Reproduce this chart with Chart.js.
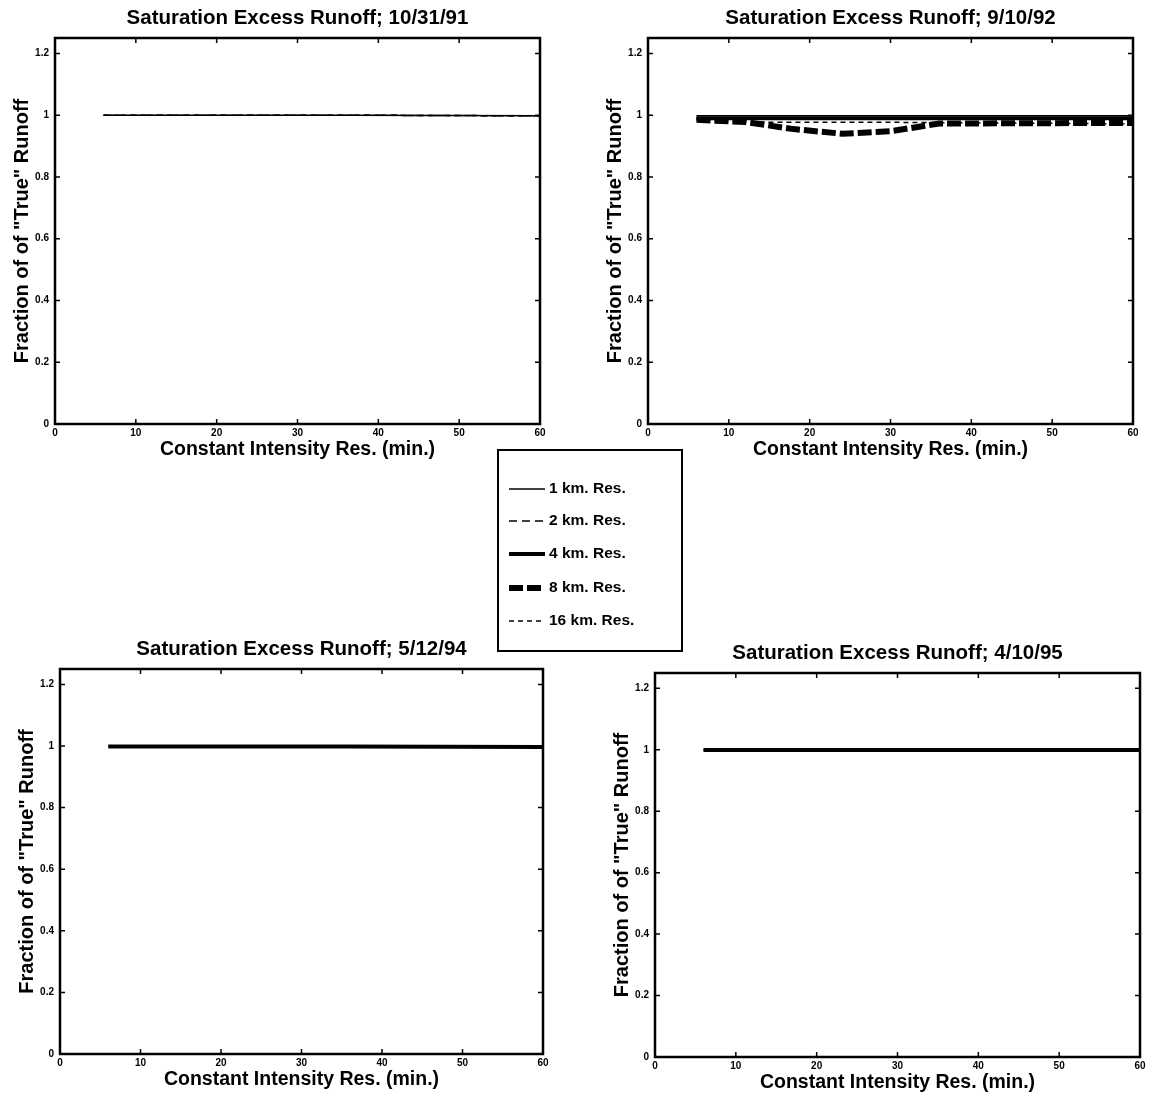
<!DOCTYPE html>
<html>
<head>
<meta charset="utf-8">
<script src="https://cdn.jsdelivr.net/npm/chart.js@4.4.0/dist/chart.umd.min.js"></script>
<style>
  body { margin: 0; background: #fff; width: 1150px; height: 1097px; position: relative; overflow: hidden; }
  .panel { position: absolute; }
  #legend { position: absolute; left: 497px; top: 449px; width: 182px; height: 199px; border: 2px solid #000;
    font-family: "Liberation Sans", Arial, sans-serif; font-weight: bold; font-size: 15.5px; color: #000; }
  .row { position: absolute; left: 10px; height: 16px; line-height: 16px; white-space: nowrap; }
  .row canvas { vertical-align: middle; margin-right: 4px; }
</style>
</head>
<body>
<div id="legend"></div>
<script>
// resolutions on the x axis (min.)
const xRes = [6, 12, 18, 24, 30, 36, 60];
const xTicks = [0, 10, 20, 30, 40, 50, 60];
const yTicks = [0, 0.2, 0.4, 0.6, 0.8, 1, 1.2];

const seriesNames = ['1 km. Res.', '2 km. Res.', '4 km. Res.', '8 km. Res.', '16 km. Res.'];
const seriesWidths = [1.5, 1.5, 4, 6, 1.5];
const seriesDashes = [[], [8, 5], [], [14, 4], [5, 4]];

const titles = [
    'Saturation Excess Runoff; 10/31/91',
    'Saturation Excess Runoff; 9/10/92',
    'Saturation Excess Runoff; 5/12/94',
    'Saturation Excess Runoff; 4/10/95'
];

// 10/31/91
const p1km_91 = [1, 1, 1, 1, 1, 1, 0.998];
const p2km_91 = [1, 1, 1, 1, 1, 1, 0.998];
const p16km_91 = [1, 1, 1, 1, 1, 1, 0.998];

// 9/10/92
const p1km_92 = [0.998, 0.998, 0.998, 0.998, 0.998, 0.998, 0.998];
const p2km_92 = [0.99, 0.988, 0.988, 0.988, 0.988, 0.99, 0.99];
const p4km_92 = [0.99, 0.99, 0.99, 0.99, 0.99, 0.99, 0.99];
const p8km_92 = [0.985, 0.978, 0.955, 0.94, 0.948, 0.973, 0.975];
const p16km_92 = [0.985, 0.978, 0.977, 0.977, 0.977, 0.976, 0.972];

// 5/12/94
const p1km_94 = [1, 1, 1, 1, 1, 1, 0.998];
const p4km_94 = [0.998, 0.998, 0.998, 0.998, 0.998, 0.998, 0.997];

// 4/10/95
const p1km_95 = [1, 1, 1, 1, 1, 1, 1];
const p4km_95 = [0.999, 0.999, 0.999, 0.999, 0.999, 0.999, 0.999];

const panelData = [
    [p1km_91, p2km_91, null, null, p16km_91],
    [p1km_92, p2km_92, p4km_92, p8km_92, p16km_92],
    [p1km_94, null, p4km_94, null, null],
    [p1km_95, null, p4km_95, null, null]
];

// plot area boxes in page pixels: left, top, width, height
const boxes = [
    [55, 38, 485, 386],
    [648, 38, 485, 386],
    [60, 669, 483, 385],
    [655, 673, 485, 384]
];

const TOP = 38, LEFT = 55, RIGHT = 12, BOTTOM = 45;
const FONT = '"Liberation Sans", Arial, Helvetica, sans-serif';

// frame and inward ticks on all four sides
const framePlugin = {
    id: 'frame',
    afterDraw(chart) {
        const ctx = chart.ctx;
        const a = chart.chartArea;
        const xs = chart.scales.x, ys = chart.scales.y;
        ctx.save();
        ctx.strokeStyle = '#000';
        ctx.lineWidth = 1.5;
        xTicks.forEach(v => {
            const px = xs.getPixelForValue(v);
            ctx.beginPath();
            ctx.moveTo(px, a.bottom); ctx.lineTo(px, a.bottom - 5);
            ctx.moveTo(px, a.top); ctx.lineTo(px, a.top + 5);
            ctx.stroke();
        });
        yTicks.forEach(v => {
            const py = ys.getPixelForValue(v);
            ctx.beginPath();
            ctx.moveTo(a.left, py); ctx.lineTo(a.left + 5, py);
            ctx.moveTo(a.right, py); ctx.lineTo(a.right - 5, py);
            ctx.stroke();
        });
        ctx.lineWidth = 2.5;
        ctx.strokeRect(a.left, a.top, a.right - a.left, a.bottom - a.top);
        ctx.restore();
    }
};

function makePanel(i) {
    const [bl, bt, bw, bh] = boxes[i];
    const div = document.createElement('div');
    div.className = 'panel';
    div.style.left = (bl - LEFT) + 'px';
    div.style.top = (bt - TOP) + 'px';
    const canvas = document.createElement('canvas');
    canvas.width = LEFT + bw + RIGHT;
    canvas.height = TOP + bh + BOTTOM;
    div.appendChild(canvas);
    document.body.appendChild(div);

    const datasets = [];
    panelData[i].forEach((vals, k) => {
        if (!vals) return;
        datasets.push({
            label: seriesNames[k],
            data: xRes.map((x, j) => ({x: x, y: vals[j]})),
            borderColor: '#000',
            borderWidth: seriesWidths[k],
            borderDash: seriesDashes[k],
            pointRadius: 0,
            fill: false,
            tension: 0
        });
    });

    new Chart(canvas.getContext('2d'), {
        type: 'line',
        data: { datasets: datasets },
        options: {
            responsive: false,
            animation: false,
            layout: { padding: { left: 0, top: 0, bottom: 0, right: RIGHT } },
            plugins: {
                legend: { display: false },
                tooltip: { enabled: false },
                title: {
                    display: true,
                    fullSize: false,
                    text: titles[i],
                    color: '#000',
                    font: { family: FONT, size: 20.5, weight: 'bold', lineHeight: 1.2 },
                    padding: { top: 5.7, bottom: 7.7 }
                }
            },
            scales: {
                x: {
                    type: 'linear',
                    min: 0, max: 60,
                    afterBuildTicks: s => { s.ticks = xTicks.map(v => ({value: v})); },
                    afterFit: s => { s.height = BOTTOM; },
                    grid: { display: false, drawTicks: false },
                    border: { display: false },
                    ticks: { color: '#000', padding: 3, maxRotation: 0, autoSkip: false,
                        font: { family: FONT, size: 10, weight: 'bold' } },
                    title: { display: true, text: 'Constant Intensity Res. (min.)', color: '#000',
                        font: { family: FONT, size: 19.5, weight: 'bold', lineHeight: 1.2 },
                        padding: { top: 0, bottom: 8 } }
                },
                y: {
                    min: 0, max: 1.25,
                    afterBuildTicks: s => { s.ticks = yTicks.map(v => ({value: v})); },
                    afterFit: s => { s.width = LEFT; },
                    grid: { display: false, drawTicks: false },
                    border: { display: false },
                    ticks: { color: '#000', padding: 6, autoSkip: false,
                        callback: v => String(Math.round(v * 10) / 10),
                        font: { family: FONT, size: 10, weight: 'bold' } },
                    title: { display: true, text: 'Fraction of of "True" Runoff', color: '#000',
                        font: { family: FONT, size: 20, weight: 'bold', lineHeight: 1.2 },
                        padding: { top: 10, bottom: 0 } }
                }
            }
        },
        plugins: [framePlugin]
    });
}

for (let i = 0; i < 4; i++) makePanel(i);

// legend box
const legend = document.getElementById('legend');
const rowTops = [29, 61, 94, 128, 161];
seriesNames.forEach((name, k) => {
    const row = document.createElement('div');
    row.className = 'row';
    row.style.top = rowTops[k] + 'px';
    const c = document.createElement('canvas');
    c.width = 36; c.height = 10;
    const g = c.getContext('2d');
    g.strokeStyle = '#000';
    g.lineWidth = seriesWidths[k];
    g.setLineDash(seriesDashes[k]);
    g.beginPath(); g.moveTo(0, 5); g.lineTo(36, 5); g.stroke();
    row.appendChild(c);
    row.appendChild(document.createTextNode(name));
    legend.appendChild(row);
});
</script>
</body>
</html>
